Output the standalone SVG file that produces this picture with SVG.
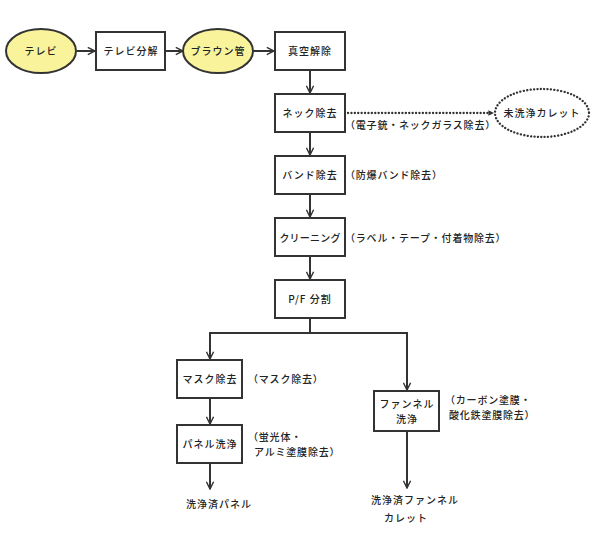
<svg xmlns="http://www.w3.org/2000/svg" width="596" height="550" viewBox="0 0 596 550">
<defs>
<style>
.box{fill:#fff;stroke:#333;stroke-width:2}
.oval{fill:#F9F49C;stroke:#333;stroke-width:2}
.dot{fill:#fff;stroke:#333;stroke-width:2.3;stroke-dasharray:0.1 3.3;stroke-linecap:round}
.t{font-family:"Noto Sans CJK JP","Noto Sans",sans-serif;font-size:10px;font-weight:500;fill:#222;letter-spacing:1px}
.c{text-anchor:middle}
.l{font-family:"Noto Sans CJK JP","Noto Sans",sans-serif;font-size:10px;font-weight:500;fill:#222;letter-spacing:0.8px}
.ln{fill:none;stroke:#333;stroke-width:2}
.dl{fill:none;stroke:#333;stroke-width:2.3;stroke-dasharray:0.1 3.3;stroke-linecap:round}
</style>
<marker id="ar" viewBox="0 0 10 10" refX="9" refY="5" markerWidth="9" markerHeight="9" markerUnits="userSpaceOnUse" orient="auto">
<path d="M1,1 L9,5 L1,9" fill="none" stroke="#333" stroke-width="1.6"/>
</marker>
<marker id="af" viewBox="0 0 10 10" refX="9" refY="5" markerWidth="7" markerHeight="7" markerUnits="userSpaceOnUse" orient="auto">
<path d="M1,1 L9,5 L1,9 Z" fill="#333"/>
</marker>
</defs>

<g id="connectors">
<line class="ln" x1="77" y1="51" x2="95" y2="51" marker-end="url(#ar)"/>
<line class="ln" x1="165" y1="51" x2="183" y2="51" marker-end="url(#ar)"/>
<line class="ln" x1="253" y1="51" x2="274" y2="51" marker-end="url(#ar)"/>
<line class="ln" x1="310" y1="70" x2="310" y2="93" marker-end="url(#ar)"/>
<line class="dl" x1="348" y1="113" x2="489" y2="113"/>
<line x1="485" y1="113" x2="494" y2="113" stroke="none" marker-end="url(#af)"/>
<line class="ln" x1="310" y1="132" x2="310" y2="155" marker-end="url(#ar)"/>
<line class="ln" x1="310" y1="194" x2="310" y2="217" marker-end="url(#ar)"/>
<line class="ln" x1="310" y1="256" x2="310" y2="279" marker-end="url(#ar)"/>
<path class="ln" d="M310,318 V333 M209,333 H408"/>
<line class="ln" x1="210" y1="333" x2="210" y2="359" marker-end="url(#ar)"/>
<line class="ln" x1="407" y1="333" x2="407" y2="390" marker-end="url(#ar)"/>
<line class="ln" x1="210" y1="398" x2="210" y2="424" marker-end="url(#ar)"/>
<line class="ln" x1="210" y1="463" x2="210" y2="489" marker-end="url(#ar)"/>
<line class="ln" x1="407" y1="431" x2="407" y2="488" marker-end="url(#ar)"/>
</g>

<g id="n-tv">
<ellipse class="oval" cx="41" cy="51" rx="35" ry="22"/>
<text class="t c" x="41" y="55">テレビ</text>
</g>
<g id="n-tv-bunkai">
<rect class="box" x="96" y="32" width="69" height="38"/>
<text class="t c" x="131" y="55">テレビ分解</text>
</g>
<g id="n-braun">
<ellipse class="oval" cx="218" cy="51" rx="35" ry="22"/>
<text class="t c" x="218" y="55">ブラウン管</text>
</g>
<g id="n-shinku">
<rect class="box" x="275" y="32" width="70" height="38"/>
<text class="t c" x="310" y="55">真空解除</text>
</g>
<g id="n-neck">
<rect class="box" x="275" y="94" width="70" height="38"/>
<text class="t c" x="310" y="117">ネック除去</text>
<text class="l" x="345" y="129">（電子銃・ネックガラス除去）</text>
</g>
<g id="n-cullet">
<ellipse class="dot" cx="542" cy="113" rx="47" ry="24"/>
<text class="t c" x="542" y="117">未洗浄カレット</text>
</g>
<g id="n-band">
<rect class="box" x="275" y="156" width="70" height="38"/>
<text class="t c" x="310" y="179">バンド除去</text>
<text class="l" x="345" y="179">（防爆バンド除去）</text>
</g>
<g id="n-clean">
<rect class="box" x="275" y="218" width="70" height="38"/>
<text class="t c" x="310" y="242" style="letter-spacing:0.2px">クリーニング</text>
<text class="l" x="345" y="242">（ラベル・テープ・付着物除去）</text>
</g>
<g id="n-pf">
<rect class="box" x="275" y="280" width="70" height="38"/>
<text class="t c" x="310" y="303">P/F 分割</text>
</g>
<g id="n-mask">
<rect class="box" x="177" y="360" width="65" height="38"/>
<text class="t c" x="210" y="383">マスク除去</text>
<text class="l" x="248" y="383">（マスク除去）</text>
</g>
<g id="n-panel">
<rect class="box" x="177" y="425" width="65" height="38"/>
<text class="t c" x="210" y="448">パネル洗浄</text>
<text class="l" x="248" y="441">（蛍光体・</text>
<text class="l" x="254" y="456">アルミ塗膜除去）</text>
</g>
<g id="n-panel-out">
<text class="t c" x="219" y="508">洗浄済パネル</text>
</g>
<g id="n-funnel">
<rect class="box" x="374" y="391" width="65" height="40"/>
<text class="t c" x="407" y="408">ファンネル</text>
<text class="t c" x="407" y="423">洗浄</text>
<text class="l" x="445" y="404">（カーボン塗膜・</text>
<text class="l" x="449" y="419">酸化鉄塗膜除去）</text>
</g>
<g id="n-funnel-out">
<text class="t c" x="415" y="504">洗浄済ファンネル</text>
<text class="t c" x="406" y="522">カレット</text>
</g>
</svg>
